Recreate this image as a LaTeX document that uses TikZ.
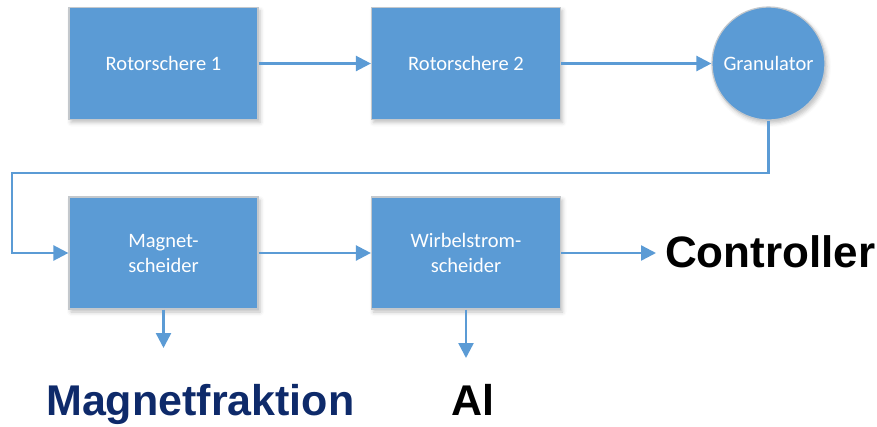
\documentclass[tikz,border=0pt]{standalone}
\usepackage{fontspec}
\setmainfont{Carlito}
\newfontfamily\labelfont{Liberation Sans}
\usetikzlibrary{arrows.meta,shadows.blur}
\definecolor{boxblue}{HTML}{5B9BD5}
\definecolor{boxedge}{HTML}{C4C8CC}
\definecolor{navy}{HTML}{0E2A6A}
\begin{document}
\begin{tikzpicture}[x=1pt,y=-1pt,
  stage/.style={draw=boxedge,line width=1.2pt,fill=boxblue,minimum width=189pt,minimum height=112pt,
    text=white,font=\fontsize{20.5}{25}\selectfont,align=center,inner sep=0pt,
    blur shadow={shadow xshift=2pt,shadow yshift=-3pt,shadow blur radius=4pt,shadow opacity=25}},
  flow/.style={draw=boxblue,line width=2.4pt,-{Triangle[length=15pt,width=15pt]}},
  biglabel/.style={font=\labelfont\bfseries\fontsize{44}{44}\selectfont,inner sep=0pt}]
\useasboundingbox (0,0) rectangle (877,426);
% top row
\node[stage] (r1) at (163.5,63.5) {Rotorschere 1};
\node[stage] (r2) at (466,63.5) {Rotorschere 2};
\node[stage,circle,minimum size=113pt] (gr) at (768.5,63.5) {Granulator};
% bottom row
\node[stage] (ms) at (163.5,253) {Magnet-\\scheider};
\node[stage] (ws) at (466,253) {Wirbelstrom-\\scheider};
% outputs
\node[biglabel,anchor=base west] (ctrl) at (665,267) {Controller};
\node[biglabel,anchor=base west,text=navy,font=\labelfont\bfseries\fontsize{43}{43}\selectfont] (mf) at (46,415) {Magnetfraktion};
\node[biglabel,anchor=base west,font=\labelfont\bfseries\fontsize{43}{43}\selectfont] (al) at (451,415) {Al};
\coordinate (cend) at (656,253);
\coordinate (mend) at (163.5,348);
\coordinate (wend) at (466,358);
% connectors
\draw[flow] (r1) -- (r2);
\draw[flow] (r2) -- (gr);
\draw[flow] (gr.south) -- (768.5,173) -- (12,173) -- (12,253) -- (ms.west);
\draw[flow] (ms) -- (ws);
\draw[flow] (ws.east) -- (cend);
\draw[flow] (ms.south) -- (mend);
\draw[flow] (ws.south) -- (wend);
\end{tikzpicture}
\end{document}
